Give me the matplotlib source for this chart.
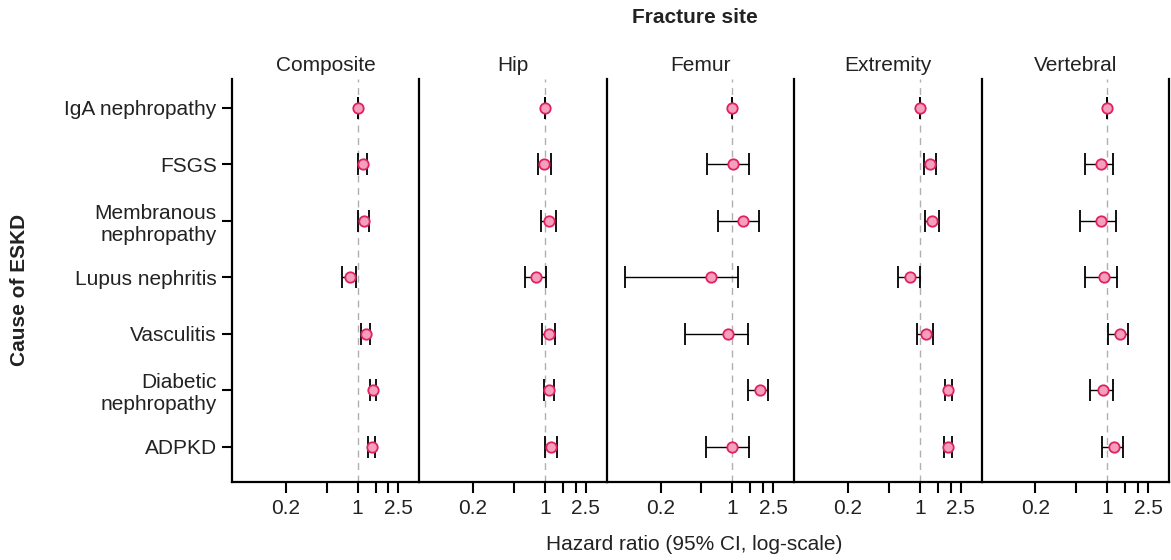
import numpy as np
import matplotlib
matplotlib.use("Agg")
import matplotlib.pyplot as plt

plt.rcParams['font.family'] = ['Liberation Sans', 'DejaVu Sans']

causes = ['IgA nephropathy', 'FSGS', 'Membranous\nnephropathy', 'Lupus nephritis',
          'Vasculitis', 'Diabetic\nnephropathy', 'ADPKD']
sites = ['Composite', 'Hip', 'Femur', 'Extremity', 'Vertebral']

# hazard ratios and 95% CI (IgA nephropathy = reference)
composite_hr = [1.00, 1.12, 1.15, 0.85, 1.20, 1.41, 1.38]
composite_lo = [1.00, 1.01, 1.01, 0.71, 1.08, 1.33, 1.27]
composite_hi = [1.00, 1.24, 1.30, 0.97, 1.33, 1.52, 1.47]

hip_hr = [1.00, 0.99, 1.09, 0.82, 1.09, 1.09, 1.14]
hip_lo = [1.00, 0.86, 0.91, 0.64, 0.94, 0.99, 1.00]
hip_hi = [1.00, 1.14, 1.27, 1.02, 1.25, 1.22, 1.31]

femur_hr = [1.00, 1.02, 1.28, 0.62, 0.90, 1.85, 1.00]
femur_lo = [1.00, 0.57, 0.73, 0.091, 0.345, 1.43, 0.56]
femur_hi = [1.00, 1.46, 1.83, 1.14, 1.43, 2.24, 1.46]

extremity_hr = [1.00, 1.27, 1.31, 0.81, 1.15, 1.89, 1.89]
extremity_lo = [1.00, 1.10, 1.12, 0.61, 0.94, 1.75, 1.71]
extremity_hi = [1.00, 1.43, 1.53, 1.00, 1.34, 2.05, 2.05]

vertebral_hr = [1.00, 0.88, 0.88, 0.93, 1.34, 0.91, 1.17]
vertebral_lo = [1.00, 0.61, 0.55, 0.61, 1.02, 0.68, 0.89]
vertebral_hi = [1.00, 1.14, 1.22, 1.25, 1.60, 1.14, 1.43]

panels = [
    (composite_hr, composite_lo, composite_hi),
    (hip_hr, hip_lo, hip_hi),
    (femur_hr, femur_lo, femur_hi),
    (extremity_hr, extremity_lo, extremity_hi),
    (vertebral_hr, vertebral_lo, vertebral_hi),
]

xticks = [0.2, 0.5, 1, 1.5, 2, 2.5]
xticklabels = ['0.2', '', '1', '', '', '2.5']

text_color = '#222222'
fs = 15

fig, axes = plt.subplots(1, 5, figsize=(11.71, 5.6), dpi=100, sharey=True)
fig.subplots_adjust(left=0.1981, right=0.9983, top=0.859, bottom=0.1393, wspace=0)

y = np.arange(len(causes))

for i, (ax, site, (hr, lo, hi)) in enumerate(zip(axes, sites, panels)):
    hr = np.array(hr)
    err = np.vstack([hr - np.array(lo), np.array(hi) - hr])

    ax.axvline(1, color='#b0b0b0', linestyle=(0, (5, 4)), linewidth=1.0, zorder=1)
    ax.errorbar(hr, y, xerr=err, fmt='o', color='black', ecolor='black',
                elinewidth=1.0, capsize=8, capthick=1.0,
                markerfacecolor='#f4a0bc', markeredgecolor='#e3205f',
                markeredgewidth=1.3, markersize=7.5, zorder=3)

    ax.set_xscale('log')
    ax.set_xlim(0.06, 4)
    ax.set_ylim(6.62, -0.51)
    ax.set_xticks(xticks)
    ax.set_xticklabels(xticklabels)
    ax.xaxis.set_minor_locator(matplotlib.ticker.NullLocator())
    ax.tick_params(axis='x', length=8, width=1.5, labelsize=fs,
                   labelcolor=text_color, pad=4)
    ax.set_title(site, fontsize=fs, color=text_color, pad=6)

    for s in ['left', 'bottom', 'right']:
        ax.spines[s].set_linewidth(1.6)
    ax.spines['top'].set_visible(False)
    if i < len(axes) - 1:
        ax.spines['right'].set_visible(False)

    if i == 0:
        ax.set_yticks(y)
        ax.set_yticklabels(causes, fontsize=fs, color=text_color)
        ax.tick_params(axis='y', length=7, width=1.5, pad=4)
    else:
        ax.tick_params(axis='y', left=False, labelleft=False)

fig.text(0.593, 0.969, 'Fracture site', ha='center', va='center',
         fontsize=fs, fontweight='bold', color=text_color)
fig.text(0.593, 0.027, 'Hazard ratio (95% CI, log-scale)', ha='center', va='center',
         fontsize=fs, color=text_color)
fig.text(0.017, 0.482, 'Cause of ESKD', ha='center', va='center', rotation=90,
         fontsize=fs, fontweight='bold', color=text_color)

fig.savefig('out.png', dpi=100)
